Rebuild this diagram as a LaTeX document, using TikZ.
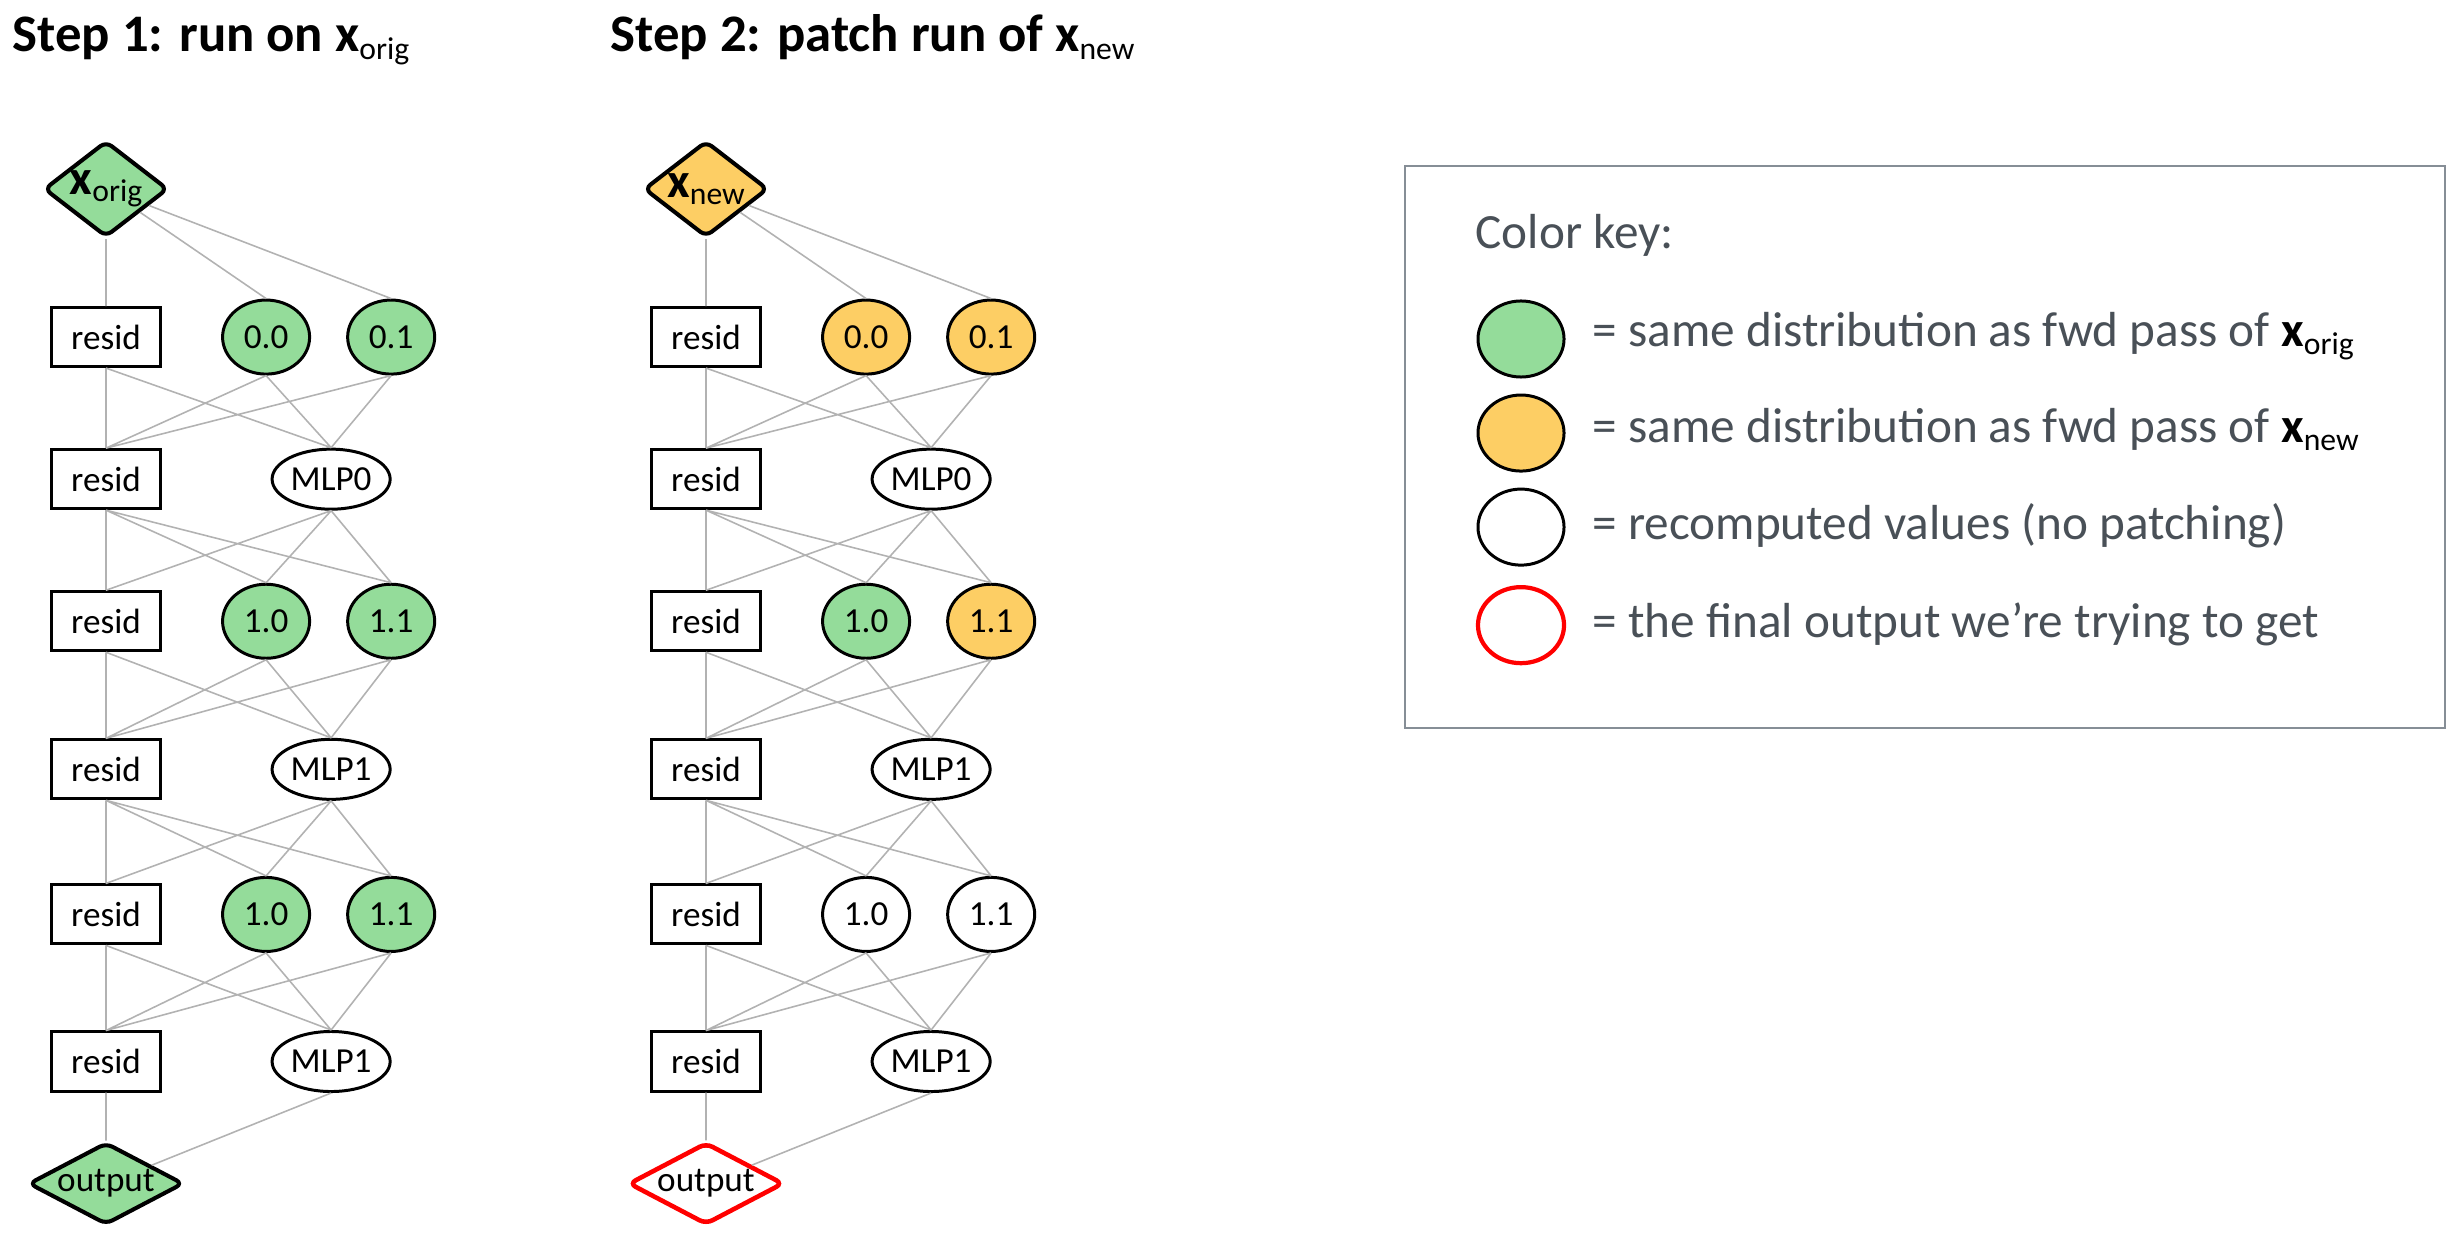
\documentclass[tikz,border=0pt]{standalone}
\usepackage{fontspec}
\setmainfont{Carlito}
\usepackage{tikz}
\usetikzlibrary{positioning,shapes.geometric}
\definecolor{origgreen}{RGB}{148,220,154}
\definecolor{newyellow}{RGB}{253,206,100}
\definecolor{wiregray}{RGB}{178,178,178}
\definecolor{keyink}{RGB}{73,80,87}
\definecolor{keyframe}{RGB}{134,142,150}
\newcommand{\subtxt}[1]{\raisebox{-2pt}{\fontsize{9}{9}\selectfont\mdseries #1}}

\begin{document}
\begin{tikzpicture}[x=0.01cm,y=-0.01cm,on grid,every node/.style={font=\fontsize{10}{12}\selectfont}]
\tikzstyle{res}=[draw,fill=white,line width=0.85pt,minimum width=1.08cm,minimum height=0.59cm,inner sep=0pt]
\tikzstyle{head}=[draw,ellipse,fill=white,line width=0.85pt,minimum width=0.87cm,minimum height=0.74cm,inner sep=0pt]
\tikzstyle{mlp}=[head,minimum width=1.18cm,minimum height=0.6cm]
\tikzstyle{io}=[draw,diamond,fill=white,line width=1.15pt,rounded corners=2pt,inner sep=0pt]
\tikzstyle{inbox}=[io,aspect=1.3,minimum width=1.24cm,minimum height=0.96cm]
\tikzstyle{outbox}=[io,aspect=1.9,minimum width=1.55cm,minimum height=0.82cm]
\tikzstyle{wire}=[draw=wiregray,line width=0.45pt]
\tikzstyle{title}=[anchor=base west,inner sep=0pt,font=\fontsize{15}{18}\selectfont\bfseries]
\tikzstyle{keytext}=[anchor=base west,inner sep=0pt,text=keyink,font=\fontsize{14}{17}\selectfont]
\tikzstyle{keydot}=[draw,ellipse,line width=0.85pt,minimum width=0.86cm,minimum height=0.76cm,inner sep=0pt]
\useasboundingbox (0,0) rectangle (2455,1237);

\node[title] (step1) at (12,52) {Step 1: run on x\subtxt{orig}};
\node[title] (step2) at (610,52) {Step 2: patch run of x\subtxt{new}};

% step 1: clean run
\node[inbox,fill=origgreen] (Lx) at (106,189) {{\fontsize{14}{14}\selectfont\bfseries x}\subtxt{orig}};
\node[res,below=1.48cm of Lx] (Lr1) {resid};
\node[head,fill=origgreen,right=1.6cm of Lr1] (Lh1a) {0.0};
\node[head,fill=origgreen,right=1.25cm of Lh1a] (Lh1b) {0.1};
\node[res,below=1.42cm of Lr1] (Lr2) {resid};
\node[mlp,right=2.25cm of Lr2] (Lm2) {MLP0};
\node[res,below=1.42cm of Lr2] (Lr3) {resid};
\node[head,fill=origgreen,right=1.6cm of Lr3] (Lh3a) {1.0};
\node[head,fill=origgreen,right=1.25cm of Lh3a] (Lh3b) {1.1};
\node[res,below=1.48cm of Lr3] (Lr4) {resid};
\node[mlp,right=2.25cm of Lr4] (Lm4) {MLP1};
\node[res,below=1.45cm of Lr4] (Lr5) {resid};
\node[head,fill=origgreen,right=1.6cm of Lr5] (Lh5a) {1.0};
\node[head,fill=origgreen,right=1.25cm of Lh5a] (Lh5b) {1.1};
\node[res,below=1.47cm of Lr5] (Lr6) {resid};
\node[mlp,right=2.25cm of Lr6] (Lm6) {MLP1};
\node[outbox,fill=origgreen,below=1.22cm of Lr6] (Lout) {output};

\draw[wire] (Lx) -- (Lr1) (Lx) -- (Lh1a.north) (Lx) -- (Lh1b.north);
\draw[wire] (Lr1.south) -- (Lr2.north) (Lr1.south) -- (Lm2.north)
  (Lh1a.south) -- (Lr2.north) (Lh1a.south) -- (Lm2.north)
  (Lh1b.south) -- (Lr2.north) (Lh1b.south) -- (Lm2.north);
\draw[wire] (Lr2.south) -- (Lr3.north) (Lr2.south) -- (Lh3a.north) (Lr2.south) -- (Lh3b.north)
  (Lm2.south) -- (Lr3.north) (Lm2.south) -- (Lh3a.north) (Lm2.south) -- (Lh3b.north);
\draw[wire] (Lr3.south) -- (Lr4.north) (Lr3.south) -- (Lm4.north)
  (Lh3a.south) -- (Lr4.north) (Lh3a.south) -- (Lm4.north)
  (Lh3b.south) -- (Lr4.north) (Lh3b.south) -- (Lm4.north);
\draw[wire] (Lr4.south) -- (Lr5.north) (Lr4.south) -- (Lh5a.north) (Lr4.south) -- (Lh5b.north)
  (Lm4.south) -- (Lr5.north) (Lm4.south) -- (Lh5a.north) (Lm4.south) -- (Lh5b.north);
\draw[wire] (Lr5.south) -- (Lr6.north) (Lr5.south) -- (Lm6.north)
  (Lh5a.south) -- (Lr6.north) (Lh5a.south) -- (Lm6.north)
  (Lh5b.south) -- (Lr6.north) (Lh5b.south) -- (Lm6.north);
\draw[wire] (Lr6) -- (Lout) (Lm6.south) -- (Lout);

% step 2: patched run
\node[inbox,fill=newyellow] (Rx) at (706,189) {{\fontsize{14}{14}\selectfont\bfseries x}\subtxt{new}};
\node[res,below=1.48cm of Rx] (Rr1) {resid};
\node[head,fill=newyellow,right=1.6cm of Rr1] (Rh1a) {0.0};
\node[head,fill=newyellow,right=1.25cm of Rh1a] (Rh1b) {0.1};
\node[res,below=1.42cm of Rr1] (Rr2) {resid};
\node[mlp,right=2.25cm of Rr2] (Rm2) {MLP0};
\node[res,below=1.42cm of Rr2] (Rr3) {resid};
\node[head,fill=origgreen,right=1.6cm of Rr3] (Rh3a) {1.0};
\node[head,fill=newyellow,right=1.25cm of Rh3a] (Rh3b) {1.1};
\node[res,below=1.48cm of Rr3] (Rr4) {resid};
\node[mlp,right=2.25cm of Rr4] (Rm4) {MLP1};
\node[res,below=1.45cm of Rr4] (Rr5) {resid};
\node[head,right=1.6cm of Rr5] (Rh5a) {1.0};
\node[head,right=1.25cm of Rh5a] (Rh5b) {1.1};
\node[res,below=1.47cm of Rr5] (Rr6) {resid};
\node[mlp,right=2.25cm of Rr6] (Rm6) {MLP1};
\node[outbox,draw=red,line width=1.3pt,below=1.22cm of Rr6] (Rout) {output};

\draw[wire] (Rx) -- (Rr1) (Rx) -- (Rh1a.north) (Rx) -- (Rh1b.north);
\draw[wire] (Rr1.south) -- (Rr2.north) (Rr1.south) -- (Rm2.north)
  (Rh1a.south) -- (Rr2.north) (Rh1a.south) -- (Rm2.north)
  (Rh1b.south) -- (Rr2.north) (Rh1b.south) -- (Rm2.north);
\draw[wire] (Rr2.south) -- (Rr3.north) (Rr2.south) -- (Rh3a.north) (Rr2.south) -- (Rh3b.north)
  (Rm2.south) -- (Rr3.north) (Rm2.south) -- (Rh3a.north) (Rm2.south) -- (Rh3b.north);
\draw[wire] (Rr3.south) -- (Rr4.north) (Rr3.south) -- (Rm4.north)
  (Rh3a.south) -- (Rr4.north) (Rh3a.south) -- (Rm4.north)
  (Rh3b.south) -- (Rr4.north) (Rh3b.south) -- (Rm4.north);
\draw[wire] (Rr4.south) -- (Rr5.north) (Rr4.south) -- (Rh5a.north) (Rr4.south) -- (Rh5b.north)
  (Rm4.south) -- (Rr5.north) (Rm4.south) -- (Rh5a.north) (Rm4.south) -- (Rh5b.north);
\draw[wire] (Rr5.south) -- (Rr6.north) (Rr5.south) -- (Rm6.north)
  (Rh5a.south) -- (Rr6.north) (Rh5a.south) -- (Rm6.north)
  (Rh5b.south) -- (Rr6.north) (Rh5b.south) -- (Rm6.north);
\draw[wire] (Rr6) -- (Rout) (Rm6.south) -- (Rout);

% colour key
\node[draw=keyframe,line width=0.6pt,minimum width=10.39cm,minimum height=5.62cm] (keybox) at (1925,447) {};
\node[keytext] (keyhead) at (1475,249) {Color key:};
\node[keydot,fill=origgreen] (keyorig) at (1521,339) {};
\node[keydot,fill=newyellow,below=0.94cm of keyorig] (keynew) {};
\node[keydot,below=0.94cm of keynew] (keyrecomp) {};
\node[keydot,draw=red,line width=1.2pt,below=0.98cm of keyrecomp] (keyfinal) {};
\node[keytext] (keytxt1) at (1592,347) {= same distribution as fwd pass of {\color{black}\bfseries x\subtxt{orig}}};
\node[keytext] (keytxt2) at (1592,443) {= same distribution as fwd pass of {\color{black}\bfseries x\subtxt{new}}};
\node[keytext] (keytxt3) at (1592,540) {= recomputed values (no patching)};
\node[keytext] (keytxt4) at (1592,637) {= the final output we're trying to get};
\end{tikzpicture}
\end{document}
